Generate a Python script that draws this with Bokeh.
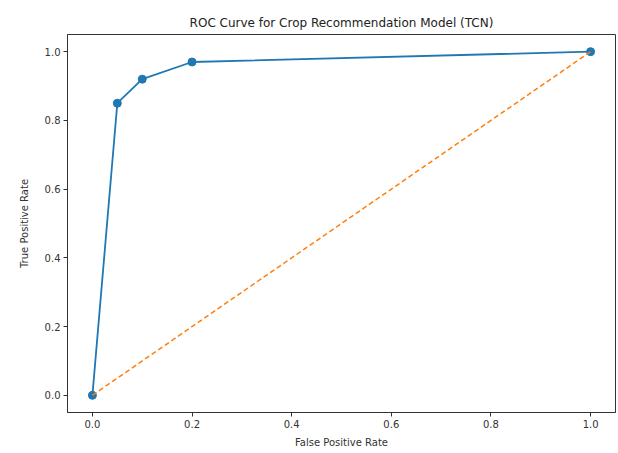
from bokeh.plotting import figure
from bokeh.embed import file_html
from bokeh.resources import INLINE
from bokeh.models import Range1d, FixedTicker

fpr = [0.0, 0.05, 0.1, 0.2, 1.0]
tpr = [0.0, 0.85, 0.92, 0.97, 1.0]
diag_x = [0.0, 1.0]
diag_y = [0.0, 1.0]
ticks = [0.0, 0.2, 0.4, 0.6, 0.8, 1.0]

p = figure(frame_width=548, frame_height=378, output_backend="svg", toolbar_location=None,
           x_range=Range1d(-0.05, 1.05), y_range=Range1d(-0.05, 1.05),
           min_border_left=67, min_border_right=3, min_border_top=34, min_border_bottom=40,
           title="ROC Curve for Crop Recommendation Model (TCN)")
p.title.align = "center"
p.title.text_font = "DejaVu Sans"
p.title.text_font_style = "normal"
p.title.text_font_size = "12px"
p.title.text_color = "#222222"

p.line(fpr, tpr, line_color="#1f77b4", line_width=1.8)
p.scatter(fpr, tpr, size=8, fill_color="#1f77b4", line_color="#1f77b4")
p.line(diag_x, diag_y, line_color="#ff7f0e", line_width=1.5, line_dash="5 3")

p.grid.visible = False
p.outline_line_color = "#333333"
p.outline_line_width = 1
p.background_fill_color = "white"
p.border_fill_color = "white"

for ax in (p.xaxis[0], p.yaxis[0]):
    ax.ticker = FixedTicker(ticks=ticks)
    ax.minor_tick_line_color = None
    ax.major_tick_in = 0
    ax.major_tick_out = 4
    ax.major_label_text_font = "DejaVu Sans"
    ax.major_label_text_font_size = "10px"
    ax.major_label_text_color = "#333333"
    ax.axis_label_text_font = "DejaVu Sans"
    ax.axis_label_text_font_size = "10px"
    ax.axis_label_text_font_style = "normal"
    ax.axis_label_text_color = "#333333"
    ax.axis_line_color = "#333333"
    ax.major_tick_line_color = "#333333"
    ax.major_label_standoff = 3

p.xaxis[0].axis_label_standoff = 6
p.yaxis[0].axis_label_standoff = 12
p.xaxis.axis_label = "False Positive Rate"
p.yaxis.axis_label = "True Positive Rate"
p.xaxis[0].major_label_overrides = {t: f"{t:.1f}" for t in ticks}
p.yaxis[0].major_label_overrides = {t: f"{t:.1f}" for t in ticks}

open("out.html", "w").write(file_html(p, INLINE))
